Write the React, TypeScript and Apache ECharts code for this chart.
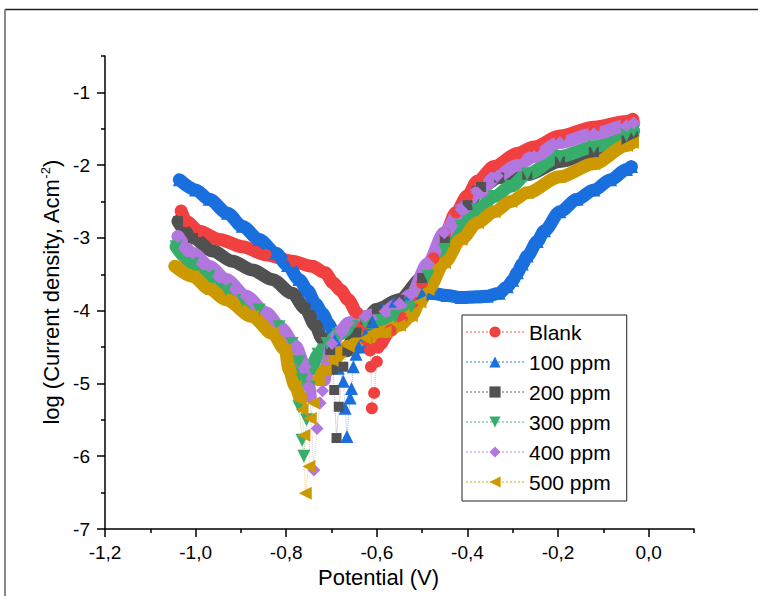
import React, { useEffect, useRef } from "react";
import * as echarts from "echarts";

// ---------- data (potential V, log current density) ----------
const seriesNames = ["Blank", "100 ppm", "200 ppm", "300 ppm", "400 ppm", "500 ppm"];
const seriesColors = ["#F14040", "#1A6FDF", "#515151", "#37AD6B", "#B177DE", "#CC9900"];

const xTicks = [-1.2, -1.0, -0.8, -0.6, -0.4, -0.2, 0.0];
const xMinorTicks = [-1.1, -0.9, -0.7, -0.5, -0.3, -0.1, 0.1];
const yTicks = [-7, -6, -5, -4, -3, -2, -1];
const yMinorTicks = [-6.5, -5.5, -4.5, -3.5, -2.5, -1.5, -0.5];

// Blank
const blankCathodic = [[-1.032,-2.63],[-1.021,-2.77],[-0.992,-2.91],[-0.948,-3.02],[-0.897,-3.12],[-0.845,-3.23],[-0.787,-3.32],[-0.743,-3.39],[-0.714,-3.48],[-0.696,-3.62],[-0.680,-3.72],[-0.663,-3.85],[-0.644,-4.03],[-0.633,-4.22],[-0.623,-4.40],[-0.615,-4.54]];
const blankEcorr = [[-0.613,-4.77],[-0.611,-5.34],[-0.606,-5.13],[-0.600,-4.70],[-0.597,-4.51]];
const blankAnodic = [[-0.590,-4.45],[-0.570,-4.27],[-0.545,-4.10],[-0.520,-3.88],[-0.500,-3.62],[-0.475,-3.28],[-0.450,-2.95],[-0.425,-2.65],[-0.400,-2.42],[-0.378,-2.22],[-0.341,-2.02],[-0.290,-1.84],[-0.253,-1.75],[-0.196,-1.60],[-0.121,-1.48],[-0.049,-1.40],[-0.035,-1.37]];

// 100 ppm
const p100Cathodic = [[-1.036,-2.20],[-1.000,-2.34],[-0.970,-2.47],[-0.930,-2.66],[-0.897,-2.84],[-0.860,-3.02],[-0.823,-3.21],[-0.797,-3.38],[-0.772,-3.57],[-0.752,-3.73],[-0.736,-3.90],[-0.720,-4.04],[-0.707,-4.17],[-0.692,-4.40]];
const p100Ecorr = [[-0.685,-4.79],[-0.674,-4.97],[-0.670,-5.34],[-0.666,-5.73],[-0.659,-5.20],[-0.656,-5.07],[-0.652,-4.77],[-0.646,-4.60]];
const p100Anodic = [[-0.640,-4.50],[-0.625,-4.33],[-0.610,-4.15],[-0.590,-3.97],[-0.560,-3.87],[-0.530,-3.81],[-0.500,-3.77],[-0.480,-3.76],[-0.445,-3.79],[-0.414,-3.82],[-0.380,-3.81],[-0.356,-3.80],[-0.330,-3.76],[-0.312,-3.67],[-0.300,-3.58],[-0.290,-3.48],[-0.279,-3.36],[-0.268,-3.25],[-0.246,-3.05],[-0.230,-2.90],[-0.196,-2.64],[-0.158,-2.47],[-0.121,-2.34],[-0.084,-2.20],[-0.049,-2.06],[-0.038,-2.02]];

// 200 ppm
const p200Cathodic = [[-1.039,-2.77],[-1.006,-3.00],[-0.962,-3.18],[-0.919,-3.32],[-0.875,-3.44],[-0.831,-3.57],[-0.787,-3.76],[-0.758,-3.97],[-0.736,-4.20],[-0.721,-4.38],[-0.703,-4.54]];
const p200Ecorr = [[-0.697,-4.81],[-0.694,-5.09],[-0.689,-5.75],[-0.684,-5.32],[-0.674,-4.77]];
const p200Anodic = [[-0.665,-4.55],[-0.645,-4.30],[-0.625,-4.12],[-0.600,-3.98],[-0.550,-3.85],[-0.500,-3.55],[-0.450,-3.05],[-0.400,-2.55],[-0.370,-2.30],[-0.330,-2.17],[-0.268,-2.13],[-0.196,-1.95],[-0.121,-1.82],[-0.049,-1.66],[-0.035,-1.60]];

// 300 ppm
const p300Cathodic = [[-1.043,-3.12],[-1.006,-3.35],[-0.970,-3.53],[-0.933,-3.71],[-0.896,-3.86],[-0.860,-3.99],[-0.816,-4.22],[-0.787,-4.45],[-0.772,-4.70],[-0.765,-4.95]];
const p300Ecorr = [[-0.772,-5.32],[-0.765,-5.78],[-0.761,-6.00],[-0.755,-5.50],[-0.748,-5.05]];
const p300Anodic = [[-0.743,-4.80],[-0.730,-4.60],[-0.710,-4.45],[-0.685,-4.33],[-0.655,-4.22],[-0.626,-4.17],[-0.590,-4.13],[-0.560,-4.08],[-0.524,-3.95],[-0.487,-3.53],[-0.451,-3.16],[-0.414,-2.84],[-0.378,-2.61],[-0.341,-2.43],[-0.304,-2.29],[-0.268,-2.12],[-0.196,-1.88],[-0.121,-1.75],[-0.049,-1.59],[-0.033,-1.53]];

// 400 ppm
const p400Cathodic = [[-1.039,-2.98],[-1.006,-3.21],[-0.970,-3.39],[-0.933,-3.57],[-0.889,-3.80],[-0.845,-4.03],[-0.809,-4.26],[-0.780,-4.49],[-0.758,-4.77],[-0.750,-5.04],[-0.747,-5.18]];
const p400Ecorr = [[-0.739,-6.19],[-0.732,-5.62],[-0.725,-5.27],[-0.720,-5.10]];
const p400Anodic = [[-0.716,-4.95],[-0.708,-4.70],[-0.699,-4.45],[-0.680,-4.28],[-0.663,-4.17],[-0.626,-4.08],[-0.582,-4.01],[-0.550,-3.90],[-0.524,-3.78],[-0.487,-3.35],[-0.451,-2.93],[-0.414,-2.61],[-0.378,-2.38],[-0.334,-2.15],[-0.290,-2.00],[-0.253,-1.88],[-0.196,-1.69],[-0.121,-1.57],[-0.049,-1.46],[-0.033,-1.42]];

// 500 ppm
const p500Cathodic = [[-1.046,-3.39],[-1.006,-3.53],[-0.970,-3.70],[-0.933,-3.85],[-0.875,-4.08],[-0.831,-4.31],[-0.802,-4.54],[-0.794,-4.81],[-0.780,-5.04],[-0.769,-5.23]];
const p500Ecorr = [[-0.765,-5.36],[-0.761,-5.71],[-0.758,-6.51],[-0.750,-6.14],[-0.747,-5.48],[-0.740,-5.27]];
const p500Anodic = [[-0.728,-4.95],[-0.714,-4.81],[-0.699,-4.68],[-0.663,-4.49],[-0.626,-4.38],[-0.582,-4.29],[-0.550,-4.20],[-0.524,-4.07],[-0.505,-3.88],[-0.487,-3.71],[-0.451,-3.34],[-0.414,-3.02],[-0.378,-2.79],[-0.341,-2.64],[-0.304,-2.50],[-0.268,-2.38],[-0.196,-2.16],[-0.121,-1.98],[-0.049,-1.73],[-0.036,-1.69]];

const cathodicSets = [blankCathodic, p100Cathodic, p200Cathodic, p300Cathodic, p400Cathodic, p500Cathodic];
const ecorrSets = [blankEcorr, p100Ecorr, p200Ecorr, p300Ecorr, p400Ecorr, p500Ecorr];
const anodicSets = [blankAnodic, p100Anodic, p200Anodic, p300Anodic, p400Anodic, p500Anodic];

const FONT = 'Arial, "Liberation Sans", sans-serif';
const symbols = ["circle", "triangle", "rect", "triangle", "diamond", "triangle"];
const symbolRotations = [0, 0, 0, 180, 0, 90];
const symbolSizes = [12, 13, 10, 13, 13, 13];

export default function App() {
  const ref = useRef<HTMLDivElement>(null);
  useEffect(() => {
    if (!ref.current) return;
    const chart = echarts.init(ref.current, undefined, { renderer: "svg" });
    const series: any[] = [];
    seriesNames.forEach((name, i) => {
      const color = seriesColors[i];
      const band = (data: number[][], suffix: string) => ({
        name: name + suffix,
        type: "line",
        data,
        showSymbol: false,
        smooth: 0.3,
        smoothMonotone: "x",
        silent: true,
        lineStyle: { width: 13, color, cap: "round", join: "round" },
        itemStyle: { color },
      });
      series.push(band(cathodicSets[i], " cathodic"));
      series.push(band(anodicSets[i], " anodic"));
      series.push({
        name,
        type: "line",
        data: [...cathodicSets[i], ...ecorrSets[i], ...anodicSets[i]],
        symbol: symbols[i],
        symbolSize: symbolSizes[i],
        symbolRotate: symbolRotations[i],
        showSymbol: true,
        showAllSymbol: true,
        itemStyle: { color, opacity: 1 },
        lineStyle: { type: "dotted", width: 1, color, opacity: 0.45 },
      });
    });
    const axisLine = { show: true, onZero: false, lineStyle: { color: "#000", width: 1.5 } };
    const hiddenLine = { show: false, onZero: false };
    chart.setOption({
      animation: false,
      backgroundColor: "#fff",
      grid: { left: 105, right: 64, top: 56, bottom: 67, containLabel: false },
      graphic: [
        { type: "line", shape: { x1: 5, y1: 9.5, x2: 758, y2: 9.5 }, style: { stroke: "#222", lineWidth: 1.5 } },
        { type: "line", shape: { x1: 5, y1: 9.5, x2: 5, y2: 596 }, style: { stroke: "#888", lineWidth: 2 } },
      ],
      legend: {
        data: seriesNames,
        orient: "vertical",
        left: 462,
        top: 315,
        padding: [6, 16, 8, 3],
        itemWidth: 58,
        itemHeight: 14,
        itemGap: 8,
        borderColor: "#222",
        borderWidth: 1,
        backgroundColor: "#fff",
        textStyle: { fontSize: 21, fontFamily: FONT, color: "#000", lineHeight: 22 },
      },
      xAxis: [
        {
          type: "value",
          min: -1.2,
          max: 0.1,
          position: "bottom",
          axisLine,
          axisTick: { show: true, length: 8, customValues: xTicks, lineStyle: { color: "#000", width: 1.5 } },
          axisLabel: {
            customValues: xTicks,
            formatter: (v: number) => v.toFixed(1).replace(".", ","),
            fontSize: 19,
            fontFamily: FONT,
            color: "#000",
            margin: 14,
          },
          splitLine: { show: false },
          name: "Potential (V)",
          nameLocation: "middle",
          nameGap: 36,
          nameTextStyle: { fontSize: 22, fontFamily: FONT, color: "#000", padding: [0, 42, 0, 0] },
        },
        {
          type: "value",
          min: -1.2,
          max: 0.1,
          position: "bottom",
          axisLine: hiddenLine,
          axisTick: { show: true, length: 4, customValues: xMinorTicks, lineStyle: { color: "#000", width: 1.5 } },
          axisLabel: { show: false },
          splitLine: { show: false },
        },
      ],
      yAxis: [
        {
          type: "value",
          min: -7,
          max: -0.5,
          position: "left",
          axisLine,
          axisTick: { show: true, length: 8, customValues: yTicks, lineStyle: { color: "#000", width: 1.5 } },
          axisLabel: {
            customValues: yTicks,
            formatter: (v: number) => String(v),
            fontSize: 19,
            fontFamily: FONT,
            color: "#000",
            margin: 15,
          },
          splitLine: { show: false },
          name: "log (Current density, Acm{sup|-2})",
          nameLocation: "middle",
          nameGap: 39,
          nameTextStyle: {
            fontSize: 22,
            fontFamily: FONT,
            color: "#000",
            rich: { sup: { fontSize: 13, fontFamily: FONT, color: "#000", padding: [0, 0, 12, 0] } },
          },
        },
        {
          type: "value",
          min: -7,
          max: -0.5,
          position: "left",
          axisLine: hiddenLine,
          axisTick: { show: true, length: 4, customValues: yMinorTicks, lineStyle: { color: "#000", width: 1.5 } },
          axisLabel: { show: false },
          splitLine: { show: false },
        },
      ],
      series,
    });
    return () => chart.dispose();
  }, []);
  return <div ref={ref} style={{ width: 758, height: 596, position: "absolute", left: 0, top: 0 }} />;
}
